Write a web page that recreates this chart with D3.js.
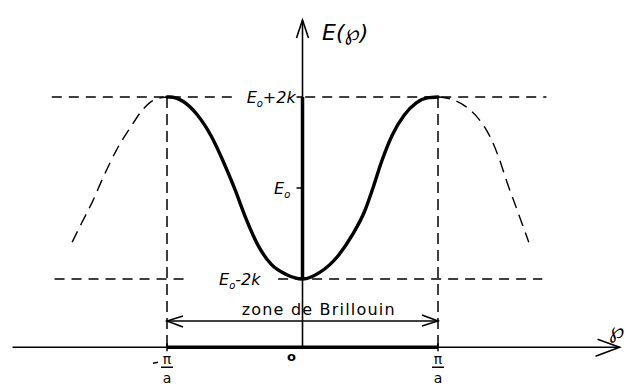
<!DOCTYPE html>
<html>
<head>
<meta charset="utf-8">
<script src="https://cdn.jsdelivr.net/npm/d3@7"></script>
<style>
  body { margin: 0; background: #fff; }
  svg { display: block; }
  text { font-family: "DejaVu Sans", sans-serif; fill: #000; }
</style>
</head>
<body>
<div id="chart"></div>
<script>
const bandP = [-1, -0.98, -0.88, -0.78, -0.67, -0.58, -0.5, -0.42, -0.33, -0.23, -0.12, 0,
               0.13, 0.26, 0.37, 0.46, 0.52, 0.58, 0.66, 0.75, 0.84, 0.92, 1];
const bandE = [2, 2, 1.9, 1.62, 1.12, 0.55, -0.02, -0.65, -1.25, -1.68, -1.9, -2,
               -1.85, -1.5, -1.02, -0.5, 0, 0.55, 1.15, 1.6, 1.87, 1.98, 2];

// dashed continuation beyond the zone
const leftExtP = [-1.7, -1.63, -1.55, -1.47, -1.37, -1.27, -1.18, -1.1, -1];
const leftExtE = [-1.19, -0.77, -0.3, 0.24, 0.85, 1.33, 1.72, 1.93, 2];
const rightExtP = [1, 1.1, 1.2, 1.3, 1.38, 1.45, 1.51, 1.58, 1.67];
const rightExtE = [2, 1.95, 1.8, 1.52, 1.15, 0.66, 0.12, -0.45, -1.19];

const xTickValues = [-1, 0, 1];
const yTickValues = [2, 0, -2];
const yTickLabels = [["E", "o", "+2k"], ["E", "o", ""], ["E", "o", "-2k"]];

const width = 625, height = 387;

const x = d3.scaleLinear().domain([-1, 1]).range([167, 438]);
const y = d3.scaleLinear().domain([-2, 2]).range([279, 97]);

const svg = d3.select("#chart").append("svg")
    .attr("width", width)
    .attr("height", height);

const line = d3.line()
    .x(d => x(d[0]))
    .y(d => y(d[1]))
    .curve(d3.curveMonotoneX);

const axisY = y(-3.5);

// horizontal dashed levels (broken where the labels sit)
const levelSegments = [
    [2, -1.85, -0.49], [2, 0.02, 1.8],
    [-2, -1.83, -0.85], [-2, -0.18, 1.77]
];
svg.selectAll(".level")
    .data(levelSegments)
    .enter().append("line")
    .attr("x1", d => x(d[1]))
    .attr("x2", d => x(d[2]))
    .attr("y1", d => y(d[0]))
    .attr("y2", d => y(d[0]))
    .attr("stroke", "#000")
    .attr("stroke-width", 1.6)
    .attr("stroke-dasharray", "10,7");

// zone boundaries
svg.selectAll(".bound")
    .data([-1, 1])
    .enter().append("line")
    .attr("x1", d => x(d))
    .attr("x2", d => x(d))
    .attr("y1", y(2))
    .attr("y2", axisY)
    .attr("stroke", "#000")
    .attr("stroke-width", 1.5)
    .attr("stroke-dasharray", "11,6");

[[leftExtP, leftExtE], [rightExtP, rightExtE]].forEach(([ps, es]) => {
    svg.append("path")
        .attr("d", line(ps.map((p, i) => [p, es[i]])))
        .attr("fill", "none")
        .attr("stroke", "#000")
        .attr("stroke-width", 1.4)
        .attr("stroke-dasharray", "12,7");
});

// horizontal axis
svg.append("line")
    .attr("x1", x(-2.14)).attr("x2", x(2.34))
    .attr("y1", axisY).attr("y2", axisY)
    .attr("stroke", "#000").attr("stroke-width", 1.6);
svg.append("line")
    .attr("x1", x(-1)).attr("x2", x(1))
    .attr("y1", axisY).attr("y2", axisY)
    .attr("stroke", "#000").attr("stroke-width", 3.5);
svg.append("path")
    .attr("d", `M${x(2.34) - 22},${axisY - 8} L${x(2.34)},${axisY} L${x(2.34) - 24},${axisY + 9}`)
    .attr("fill", "none").attr("stroke", "#000").attr("stroke-width", 1.6);

// vertical axis
svg.append("line")
    .attr("x1", x(0)).attr("x2", x(0))
    .attr("y1", axisY).attr("y2", y(3.69))
    .attr("stroke", "#000").attr("stroke-width", 1.6);
svg.append("line")
    .attr("x1", x(0)).attr("x2", x(0))
    .attr("y1", y(-2)).attr("y2", y(2))
    .attr("stroke", "#000").attr("stroke-width", 3.5);
svg.append("path")
    .attr("d", `M${x(0) - 6},${y(3.69) + 18} L${x(0)},${y(3.69)} L${x(0) + 6},${y(3.69) + 18}`)
    .attr("fill", "none").attr("stroke", "#000").attr("stroke-width", 1.6);

// band curve
svg.append("path")
    .attr("d", line(bandP.map((p, i) => [p, bandE[i]])))
    .attr("fill", "none")
    .attr("stroke", "#000")
    .attr("stroke-width", 3.4)
    .attr("stroke-linecap", "round");

// y ticks and labels
svg.selectAll(".ytick")
    .data(yTickValues.slice(0, 2))
    .enter().append("line")
    .attr("x1", x(0) - 6).attr("x2", x(0))
    .attr("y1", d => y(d)).attr("y2", d => y(d))
    .attr("stroke", "#000").attr("stroke-width", 1.5);

const yLab = svg.selectAll(".ylab")
    .data(yTickValues)
    .enter().append("text")
    .attr("font-size", 16)
    .attr("font-style", "italic")
    .attr("text-anchor", "end")
    .attr("x", (d, i) => i === 2 ? x(-0.31) : (i === 0 ? x(-0.05) : x(-0.09)))
    .attr("y", d => y(d) + 6);
yLab.each(function(d, i) {
    const t = d3.select(this);
    const lab = yTickLabels[i];
    t.append("tspan").text(lab[0]);
    t.append("tspan").attr("font-size", 10).attr("dy", 4).text(lab[1]);
    t.append("tspan").attr("dy", -4).text(lab[2]);
});

// x tick labels
const xt = svg.selectAll(".xlab")
    .data(xTickValues)
    .enter().append("g")
    .attr("transform", d => `translate(${x(d)},${axisY})`);
xt.filter(d => d !== 0).each(function(d) {
    const g = d3.select(this);
    g.append("line").attr("x1", 0).attr("x2", 0).attr("y1", -4).attr("y2", 4)
        .attr("stroke", "#000").attr("stroke-width", 1.5);
    g.append("text").attr("x", 0).attr("y", 17).attr("text-anchor", "middle")
        .attr("font-size", 14).text("π");
    g.append("line").attr("x1", -6).attr("x2", 6).attr("y1", 20).attr("y2", 20)
        .attr("stroke", "#000").attr("stroke-width", 1.5);
    g.append("text").attr("x", 0).attr("y", 36).attr("text-anchor", "middle")
        .attr("font-size", 14).text("a");
    if (d < 0) {
        g.append("line").attr("x1", -14).attr("x2", -9).attr("y1", 16).attr("y2", 15)
            .attr("stroke", "#000").attr("stroke-width", 1.5);
    }
});
xt.filter(d => d === 0).append("text")
    .attr("x", -11).attr("y", 14)
    .attr("text-anchor", "middle")
    .attr("font-size", 13).attr("font-weight", "bold")
    .text("o");

// Brillouin zone arrow
const zoneY = 321;
svg.append("line")
    .attr("x1", x(-1)).attr("x2", x(1))
    .attr("y1", zoneY).attr("y2", zoneY)
    .attr("stroke", "#000").attr("stroke-width", 1.5);
svg.append("path")
    .attr("d", `M${x(-1) + 16},${zoneY - 5} L${x(-1)},${zoneY} L${x(-1) + 16},${zoneY + 6}
                M${x(1) - 16},${zoneY - 6} L${x(1)},${zoneY} L${x(1) - 16},${zoneY + 5}`)
    .attr("fill", "none").attr("stroke", "#000").attr("stroke-width", 1.5);
svg.append("text")
    .attr("x", x(0.12)).attr("y", 315)
    .attr("text-anchor", "middle")
    .attr("font-size", 16).attr("letter-spacing", 1.2)
    .text("zone de Brillouin");

// axis titles
svg.append("text")
    .attr("x", 322).attr("y", 40)
    .attr("font-size", 22).attr("font-style", "italic")
    .text("E(℘)");
svg.append("text")
    .attr("x", 609).attr("y", 338)
    .attr("font-size", 22).attr("font-style", "italic")
    .text("℘");
</script>
</body>
</html>
